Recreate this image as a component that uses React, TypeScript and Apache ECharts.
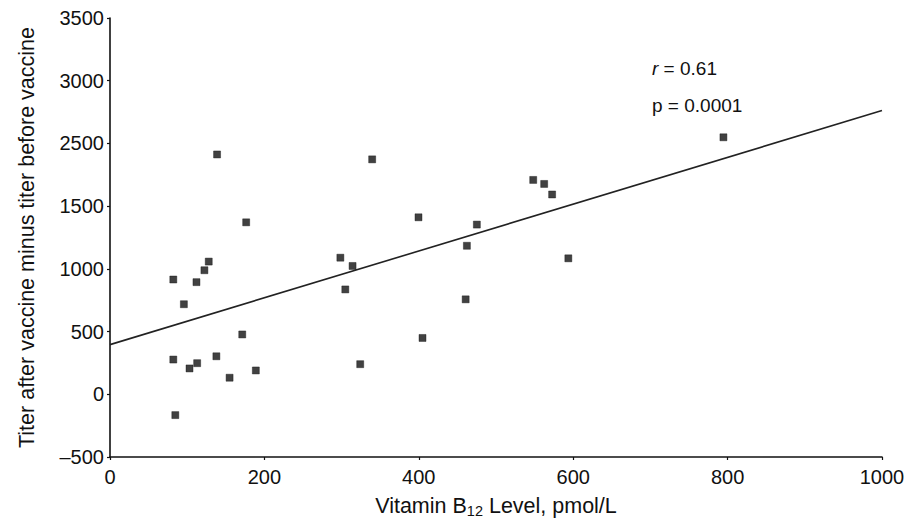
import React, { useEffect, useRef } from "react";
import * as echarts from "echarts";

// Vitamin B12 level (pmol/L) for each subject
const b12Level = [
  138.7, 339.6, 176.4, 127.9, 298.4, 122.3, 314.2, 82.0, 112.0, 304.8,
  95.7, 171.3, 82.0, 137.8, 112.9, 103.0, 154.9, 188.9, 324.1, 84.6,
  548.2, 562.4, 572.7, 399.6, 475.2, 462.3, 593.7, 460.7, 404.8, 794.6,
];

// Titer after vaccine minus titer before vaccine
const titerChange = [
  1912, 1873, 1371, 1058, 1089, 989, 1023, 915, 894, 836,
  718, 477, 277, 303, 248, 206, 132, 190, 240, -166,
  1709, 1677, 1593, 1411, 1353, 1184, 1084, 757, 449, 2049,
];

// Least-squares fit line end points
const fitX = [0, 1000];
const fitY = [396, 2262];

// Tick labels printed along the vertical axis, bottom to top
const yTickLabels = ["\u2013500", "0", "500", "1000", "1500", "2500", "3000", "3500"];
const xTicks = [0, 200, 400, 600, 800, 1000];

const stats = ["{i|r} = 0.61", "p = 0.0001"];

const FONT = "'Liberation Sans', Arial, Helvetica, sans-serif";
const INK = "#111";

export default function App() {
  const ref = useRef<HTMLDivElement>(null);

  useEffect(() => {
    if (!ref.current) return;
    const chart = echarts.init(ref.current, undefined, { renderer: "svg" });

    const points = b12Level.map((x, i) => [x, titerChange[i]]);
    const fit = fitX.map((x, i) => [x, fitY[i]]);

    chart.setOption({
      animation: false,
      backgroundColor: "#fff",
      textStyle: { fontFamily: FONT, color: INK },
      grid: { left: 97, right: 26, top: 7, bottom: 65, containLabel: false },
      xAxis: {
        type: "value",
        min: xTicks[0],
        max: xTicks[xTicks.length - 1],
        interval: 200,
        name: "Vitamin B{sub|12} Level, pmol/L",
        nameLocation: "middle",
        nameGap: 37,
        nameTextStyle: {
          fontFamily: FONT,
          fontSize: 21.5,
          color: INK,
          lineHeight: 24,
          rich: {
            sub: { fontFamily: FONT, fontSize: 14.5, color: INK, verticalAlign: "bottom", lineHeight: 14 },
          },
        },
        axisLine: { show: true, onZero: false, lineStyle: { color: INK, width: 1.6 } },
        axisTick: { show: true, inside: false, length: 3, lineStyle: { color: INK, width: 1.2 } },
        axisLabel: {
          fontFamily: FONT,
          fontSize: 20,
          color: INK,
          margin: 10,
          formatter: (v: number) => String(v),
        },
        splitLine: { show: false },
      },
      yAxis: {
        type: "value",
        min: -500,
        max: 3000,
        interval: 500,
        name: "Titer after vaccine minus titer before vaccine",
        nameLocation: "middle",
        nameGap: 72,
        nameTextStyle: { fontFamily: FONT, fontSize: 21.5, color: INK },
        axisLine: { show: true, onZero: false, lineStyle: { color: INK, width: 1.6 } },
        axisTick: { show: true, inside: false, length: 3, lineStyle: { color: INK, width: 1.2 } },
        axisLabel: {
          fontFamily: FONT,
          fontSize: 20,
          color: INK,
          margin: 6,
          formatter: (v: number) => yTickLabels[Math.round((v + 500) / 500)] ?? "",
        },
        splitLine: { show: false },
      },
      series: [
        {
          type: "line",
          data: fit,
          symbol: "none",
          lineStyle: { color: "#222", width: 1.6 },
          z: 2,
        },
        {
          type: "scatter",
          data: points,
          symbol: "rect",
          symbolSize: 7,
          itemStyle: { color: INK, borderColor: INK, borderWidth: 0.5 },
          z: 3,
        },
      ],
      graphic: [
        {
          type: "text",
          left: 644,
          top: 51,
          style: {
            text: stats[0],
            fontFamily: FONT,
            fontSize: 19,
            fill: INK,
            rich: { i: { fontStyle: "italic", fontFamily: FONT, fontSize: 19, fill: INK } },
          },
        },
        {
          type: "text",
          left: 644,
          top: 88,
          style: { text: stats[1], fontFamily: FONT, fontSize: 19, fill: INK },
        },
      ],
    });

    return () => chart.dispose();
  }, []);

  return <div ref={ref} style={{ width: 900, height: 515 }} />;
}
